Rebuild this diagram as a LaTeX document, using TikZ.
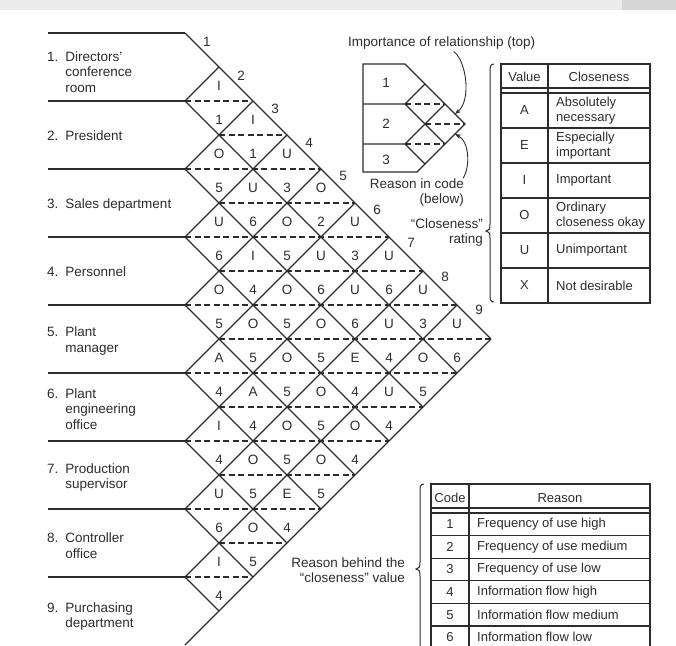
\documentclass[tikz,border=0pt]{standalone}
\usepackage{fontspec}
\setmainfont{Liberation Sans}
\usetikzlibrary{arrows.meta,calc,positioning}
\definecolor{Ink}{HTML}{2C2C2C}
\definecolor{Haze}{HTML}{ECECEC}
\definecolor{HazeDark}{HTML}{D6D6D6}

\begin{document}
\begin{tikzpicture}[x=1pt,y=-1pt,>=Stealth,
    every node/.style={font=\fontsize{13.5}{15.5}\selectfont,text=Ink,inner sep=0pt},
    cell/.style={draw=Ink,line width=1.3pt},
    midline/.style={draw=Ink,line width=1.1pt,dash pattern=on 6pt off 3.5pt},
    tabnode/.style={font=\fontsize{13}{15.5}\selectfont}]
    \useasboundingbox (0,0) rectangle (676,645);
    % faint band along the top of the scan
    \fill[Haze] (0,0) rectangle (676,10);
    \fill[HazeDark] (622,0) rectangle (676,10);

    % department rows
    \foreach \k in {0,...,8} {
      \draw[cell] (48,{33+68*\k}) -- (185,{33+68*\k});
    }
    \foreach \n/\y/\txt in {1/73.5/{Directors'\\conference\\room},2/137/President,3/205/{Sales department},
      4/273.5/Personnel,5/341.5/{Plant\\manager},6/410.5/{Plant\\engineering\\office},
      7/478/{Production\\supervisor},8/547.5/{Controller\\office},9/617/{Purchasing\\department}} {
      \node[anchor=west] (dept\n) at (47,\y)
        {\begin{tabular}{@{}l@{\hspace{7pt}}l@{}}\n. & \begin{tabular}[t]{@{}l@{}}\txt\end{tabular}\end{tabular}};
    }

    % diamond grid
    \foreach \m in {0,...,8} {
      \draw[cell] (185,{33+68*\m}) -- ({491-34*\m},{339+34*\m});
      \draw[cell] (185,{645-68*\m}) -- ({491-34*\m},{339-34*\m});
    }
    \foreach \s in {2,...,16} {
      \pgfmathsetmacro\xl{mod(\s,2)==1 ? 219 : 185}
      \pgfmathsetmacro\xr{\s<10 ? 185+34*\s : 185+34*(18-\s)}
      \draw[midline] (\xl,{33+34*\s}) -- (\xr,{33+34*\s});
    }
    \foreach \k in {1,...,9} {
      \node (edge\k) at ({207+34*(\k-1)},{42+33.5*(\k-1)}) {\k};
    }
    \foreach \i/\j/\rat/\rsn in {1/2/I/1,1/3/I/1,1/4/U/3,1/5/O/2,1/6/U/3,1/7/U/6,1/8/U/3,1/9/U/6,
      2/3/O/5,2/4/U/6,2/5/O/5,2/6/U/6,2/7/U/6,2/8/U/4,2/9/O/5,
      3/4/U/6,3/5/I/4,3/6/O/5,3/7/O/5,3/8/E/4,3/9/U/4,
      4/5/O/5,4/6/O/5,4/7/O/5,4/8/O/5,4/9/O/4,
      5/6/A/4,5/7/A/4,5/8/O/5,5/9/O/5,
      6/7/I/4,6/8/O/5,6/9/E/4,
      7/8/U/6,7/9/O/5,
      8/9/I/4} {
      \node (rat\i\j) at ({185+34*(\j-\i)},{18+34*(\i+\j-1)}) {\rat};
      \node (rsn\i\j) at ({185+34*(\j-\i)},{52+34*(\i+\j-1)}) {\rsn};
    }

    % key: small chart
    \node[anchor=west] (imp) at (348,43) {Importance of relationship (top)};
    \draw[cell] (363,64) -- (405,64) -- (465,124) -- (417,172) -- (363,172) -- cycle;
    \draw[cell] (363,104) -- (405,104) -- (445,144);
    \draw[cell] (363,144) -- (405,144) -- (425,164);
    \draw[cell] (405,144) -- (445,104);
    \draw[cell] (405,104) -- (425,84);
    \draw[midline] (405,104) -- (445,104);
    \draw[midline] (425,124) -- (465,124);
    \draw[midline] (405,144) -- (445,144);
    \foreach \k/\y in {1/83,2/124,3/160} {
      \node (key\k) at (386,\y) {\k};
    }
    \node[anchor=east,align=right] (code) at (464,192.5) {Reason in code\\(below)};
    \node[anchor=east,align=right] (rating) at (483,232.5) {``Closeness''\\rating};
    \coordinate (imptip) at (455,114);
    \coordinate (codetip) at (455,134);
    \draw[Ink,line width=0.9pt,-{Stealth[length=6pt,width=4.5pt]}]
      ([xshift=12pt,yshift=-2pt]imp.south) .. controls (466,60) and (472,100) .. (imptip);
    \draw[Ink,line width=0.9pt,-{Stealth[length=6pt,width=4.5pt]}]
      ([xshift=-1pt]code.north east) .. controls (470,168) and (470,142) .. (codetip);

    % closeness table
    \draw[Ink,line width=1pt] (494,64) .. controls (490,64) and (490,67) .. (490,72) -- (490,224)
      .. controls (490,229) and (489,231) .. (486,231) .. controls (489,231) and (490,233) .. (490,238)
      -- (490,294) .. controls (490,299) and (490,302) .. (494,302);
    \draw[cell] (501,64) rectangle (650,303);
    \draw[cell] (548,64) -- (548,303);
    \draw[cell] (501,88) -- (650,88);
    \foreach \k in {0,...,5} {
      \draw[cell] (501,{93+35*\k}) -- (650,{93+35*\k});
    }
    \node[tabnode] (valhead) at (524.5,77) {Value};
    \node[tabnode] (clshead) at (599,77) {Closeness};
    \foreach \k/\v/\txt in {0/A/{Absolutely\\necessary},1/E/{Especially\\important},2/I/Important,
      3/O/{Ordinary\\closeness okay},4/U/Unimportant,5/X/{Not desirable}} {
      \node[tabnode] (val\v) at (524.5,{110.5+35*\k}) {\v};
      \node[tabnode,anchor=west,align=left] (cls\v) at (556,{110.5+35*\k}) {\txt};
    }

    % reason table
    \node[anchor=east,align=right] (why) at (405,570) {Reason behind the\\``closeness'' value};
    \draw[Ink,line width=1pt] (424,484) .. controls (420,484) and (420,487) .. (420,492) -- (420,562)
      .. controls (420,567) and (419,569) .. (416,569) .. controls (419,569) and (420,571) .. (420,576)
      -- (420,646) .. controls (420,651) and (420,654) .. (424,654);
    \draw[cell] (431,484) rectangle (650,655);
    \draw[cell] (469,484) -- (469,655);
    \draw[cell] (431,508) -- (650,508);
    \foreach \k in {0,...,5} {
      \draw[cell] (431,{513+22.6*\k}) -- (650,{513+22.6*\k});
    }
    \node[tabnode] (codehead) at (450,498) {Code};
    \node[tabnode] (rsnhead) at (560,498) {Reason};
    \foreach \k/\txt in {1/{Frequency of use high},2/{Frequency of use medium},3/{Frequency of use low},
      4/{Information flow high},5/{Information flow medium},6/{Information flow low}} {
      \node[tabnode] (code\k) at (450,{524.3+22.6*(\k-1)}) {\k};
      \node[tabnode,anchor=west] (reason\k) at (477,{524.3+22.6*(\k-1)}) {\txt};
    }
\end{tikzpicture}
\end{document}
